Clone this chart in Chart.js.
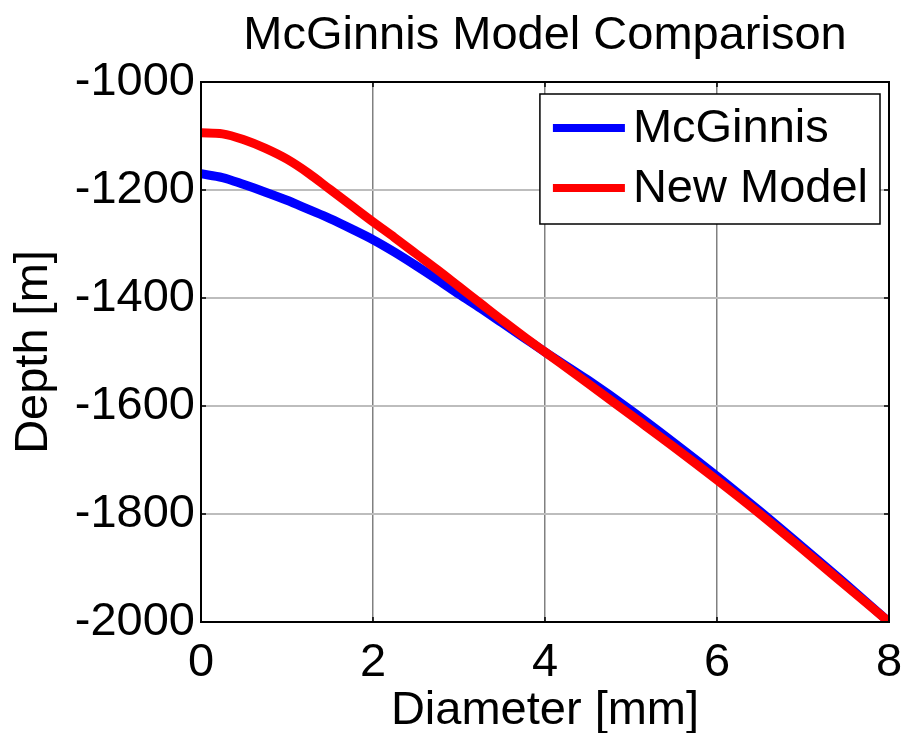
<!DOCTYPE html>
<html>
<head>
<meta charset="utf-8">
<script src="https://cdn.jsdelivr.net/npm/chart.js@4/dist/chart.umd.min.js"></script>
<style>
  html, body { margin: 0; padding: 0; background: #fff; }
  #wrap { width: 906px; height: 733px; }
</style>
</head>
<body>
<div id="wrap"><canvas id="chart" width="906" height="733"></canvas></div>
<script>
// values
const diameter = [0, 0.25, 0.5, 0.75, 1, 1.25, 1.5, 1.75, 2, 2.25, 2.5, 2.75, 3, 3.25, 3.5, 3.75, 4, 4.5, 5, 5.5, 6, 6.5, 7, 7.5, 8];
const mcginnis = [-1170, -1177, -1190, -1204, -1219, -1236, -1253, -1272, -1292, -1315, -1340, -1366, -1393, -1419, -1446, -1473, -1500, -1552, -1608, -1668, -1730, -1795, -1862, -1930, -2000];
const newModel = [-1094, -1096, -1107, -1123, -1143, -1169, -1199, -1229, -1259, -1288, -1318, -1348, -1379, -1410, -1441, -1471, -1500, -1558, -1617, -1676, -1737, -1800, -1866, -1933, -2000];
const xTicks = [0, 2, 4, 6, 8];
const yTicks = [-2000, -1800, -1600, -1400, -1200, -1000];

const FONT = 'Liberation Sans, Arial, sans-serif';

function toPoints(xs, ys) {
    return xs.map((x, i) => ({ x: x, y: ys[i] }));
}

// box round the axes with small inward ticks, like MATLAB
const boxPlugin = {
    id: 'box',
    afterDatasetsDraw(chart) {
        const ctx = chart.ctx;
        const a = chart.chartArea;
        const xs = chart.scales.x, ys = chart.scales.y;
        const len = 5;
        ctx.save();
        ctx.strokeStyle = '#000';
        ctx.lineWidth = 1.5;
        ctx.beginPath();
        xTicks.forEach(v => {
            const px = xs.getPixelForValue(v);
            ctx.moveTo(px, a.bottom); ctx.lineTo(px, a.bottom - len);
            ctx.moveTo(px, a.top); ctx.lineTo(px, a.top + len);
        });
        yTicks.forEach(v => {
            const py = ys.getPixelForValue(v);
            ctx.moveTo(a.left, py); ctx.lineTo(a.left + len, py);
            ctx.moveTo(a.right, py); ctx.lineTo(a.right - len, py);
        });
        ctx.stroke();
        ctx.lineWidth = 2;
        ctx.strokeRect(a.left, a.top, a.right - a.left, a.bottom - a.top);
        ctx.restore();
    }
};

// legend box inside the top right corner
const legendPlugin = {
    id: 'boxLegend',
    afterDraw(chart) {
        const ctx = chart.ctx;
        const a = chart.chartArea;
        ctx.save();
        ctx.font = '47px ' + FONT;
        const sets = chart.data.datasets;
        let tw = 0;
        sets.forEach(d => { tw = Math.max(tw, ctx.measureText(d.label).width); });
        const w = 13 + 72 + 8 + tw + 12;
        const h = 130;
        const right = a.right - 9;
        const left = right - w;
        const top = a.top + 12;
        ctx.fillStyle = '#fff';
        ctx.fillRect(left, top, w, h);
        ctx.strokeStyle = '#000';
        ctx.lineWidth = 1.5;
        ctx.strokeRect(left, top, w, h);
        sets.forEach((d, i) => {
            const cy = top + 34 + i * 60;
            ctx.strokeStyle = d.borderColor;
            ctx.lineWidth = 8;
            ctx.beginPath();
            ctx.moveTo(left + 13, cy);
            ctx.lineTo(left + 85, cy);
            ctx.stroke();
            ctx.fillStyle = '#000';
            ctx.textBaseline = 'middle';
            ctx.textAlign = 'left';
            ctx.fillText(d.label, left + 93, cy + 1);
        });
        ctx.restore();
    }
};

new Chart(document.getElementById('chart'), {
    type: 'line',
    data: {
        datasets: [
            {
                label: 'McGinnis',
                data: toPoints(diameter, mcginnis),
                borderColor: '#0000ff',
                backgroundColor: '#0000ff',
                borderWidth: 9,
                pointRadius: 0,
                cubicInterpolationMode: 'monotone',
                borderCapStyle: 'round',
                order: 1
            },
            {
                label: 'New Model',
                data: toPoints(diameter, newModel),
                borderColor: '#ff0000',
                backgroundColor: '#ff0000',
                borderWidth: 9,
                pointRadius: 0,
                cubicInterpolationMode: 'monotone',
                borderCapStyle: 'round',
                order: 0
            }
        ]
    },
    options: {
        responsive: false,
        animation: false,
        layout: { padding: { left: 0, right: 17, top: 0, bottom: 0 } },
        plugins: {
            legend: { display: false },
            tooltip: { enabled: false },
            title: {
                display: true,
                text: 'McGinnis Model Comparison',
                color: '#000',
                fullSize: false,
                font: { family: FONT, size: 47, weight: 'normal' },
                padding: { top: 8, bottom: 17.6 }
            }
        },
        scales: {
            x: {
                type: 'linear',
                min: 0,
                max: 8,
                afterBuildTicks: s => { s.ticks = xTicks.map(v => ({ value: v })); },
                afterFit: s => { s.height = 111; s.paddingRight = 0; s.paddingLeft = 0; },
                grid: { color: '#808080', lineWidth: 1.5, drawTicks: false },
                border: { display: false },
                ticks: {
                    color: '#000',
                    padding: 13,
                    maxRotation: 0,
                    callback: v => String(v),
                    font: { family: FONT, size: 47 }
                },
                title: {
                    display: true,
                    text: 'Diameter [mm]',
                    color: '#000',
                    font: { family: FONT, size: 47 },
                    padding: { top: 0, bottom: -6 }
                }
            },
            y: {
                type: 'linear',
                min: -2000,
                max: -1000,
                afterBuildTicks: s => { s.ticks = yTicks.map(v => ({ value: v })); },
                afterFit: s => { s.width = 201; s.paddingTop = 0; s.paddingBottom = 0; },
                grid: { color: '#bdbdbd', lineWidth: 2, drawTicks: false },
                border: { display: false },
                ticks: {
                    color: '#000',
                    padding: 6,
                    callback: v => String(v),
                    font: { family: FONT, size: 47 }
                },
                title: {
                    display: true,
                    text: 'Depth [m]',
                    color: '#000',
                    font: { family: FONT, size: 47 },
                    padding: { top: 6, bottom: 0 }
                }
            }
        }
    },
    plugins: [boxPlugin, legendPlugin]
});
</script>
</body>
</html>
